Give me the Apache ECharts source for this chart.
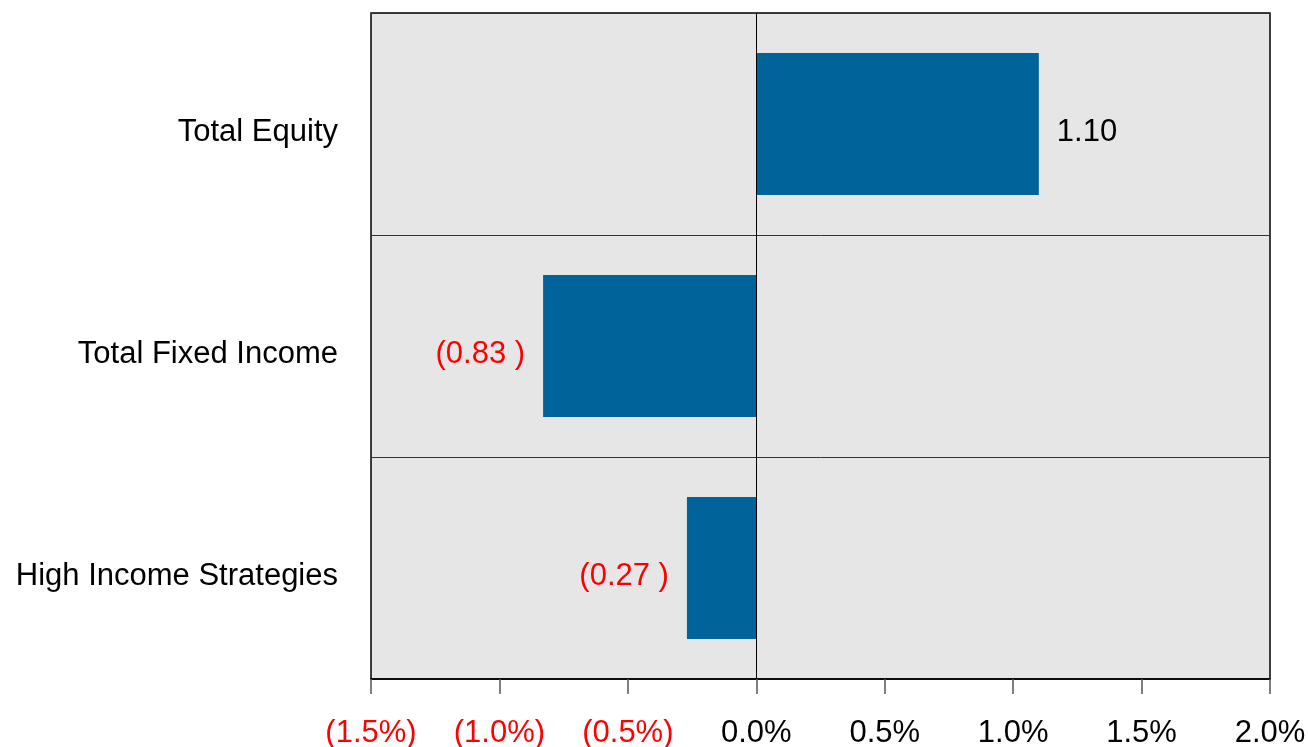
<!DOCTYPE html>
<html>
<head>
<meta charset="utf-8">
<script src="https://cdn.jsdelivr.net/npm/echarts@6/dist/echarts.min.js"></script>
<style>
  html, body { margin: 0; padding: 0; background: #fff; }
  #chart { width: 1308px; height: 747px; }
</style>
</head>
<body>
<div id="chart"></div>
<script>
var categories = ['Total Equity', 'Total Fixed Income', 'High Income Strategies'];
var values = [1.10, -0.83, -0.27];
var tickMin = -1.5;
var tickMax = 2.0;
var tickStep = 0.5;

var FONT = '"Liberation Sans", Arial, sans-serif';

function fmtPct(v) {
  var s = Math.abs(v).toFixed(1) + '%';
  return v < 0 ? '(' + s + ')' : s;
}

var barData = values.map(function (v) {
  var neg = v < 0;
  return {
    value: v,
    label: {
      position: neg ? 'left' : 'right',
      color: neg ? '#ff0000' : '#000000'
    }
  };
});

var chart = echarts.init(document.getElementById('chart'));
chart.setOption({
  animation: false,
  grid: {
    left: 371, right: 38, top: 13, bottom: 68,
    outerBoundsMode: 'none',
    containLabel: false,
    show: true,
    backgroundColor: '#e6e6e6',
    borderColor: '#000',
    borderWidth: 1.5
  },
  xAxis: {
    type: 'value',
    min: tickMin,
    max: tickMax,
    interval: tickStep,
    axisLine: { show: true, lineStyle: { color: '#000', width: 1.5 } },
    axisTick: { show: true, length: 15, lineStyle: { color: '#555', width: 1.5 } },
    splitLine: { show: false },
    axisLabel: {
      margin: 39,
      fontFamily: FONT,
      fontSize: 31,
      formatter: fmtPct,
      color: function (v) { return v < 0 ? '#ff0000' : '#000000'; }
    }
  },
  yAxis: {
    type: 'category',
    data: categories,
    inverse: true,
    axisLine: { show: false },
    axisTick: { show: false },
    splitLine: { show: true, lineStyle: { color: '#333', width: 1 } },
    axisLabel: {
      margin: 33,
      formatter: function (v) { return '{a|' + v + '}'; },
      rich: {
        a: { fontFamily: FONT, fontSize: 31, color: '#000', padding: [16, 0, 0, 0] }
      }
    }
  },
  series: [{
    type: 'bar',
    data: barData,
    barWidth: '64%',
    itemStyle: { color: '#00649a' },
    label: {
      show: true,
      distance: 18,
      offset: [0, 8],
      fontFamily: FONT,
      fontSize: 31,
      formatter: function (p) {
        var v = p.value;
        return v < 0 ? '(' + Math.abs(v).toFixed(2) + ' )' : v.toFixed(2);
      }
    },
    markLine: {
      silent: true,
      symbol: 'none',
      label: { show: false },
      lineStyle: { color: '#000', width: 1, type: 'solid' },
      data: [{ xAxis: 0 }]
    }
  }]
});
</script>
</body>
</html>
